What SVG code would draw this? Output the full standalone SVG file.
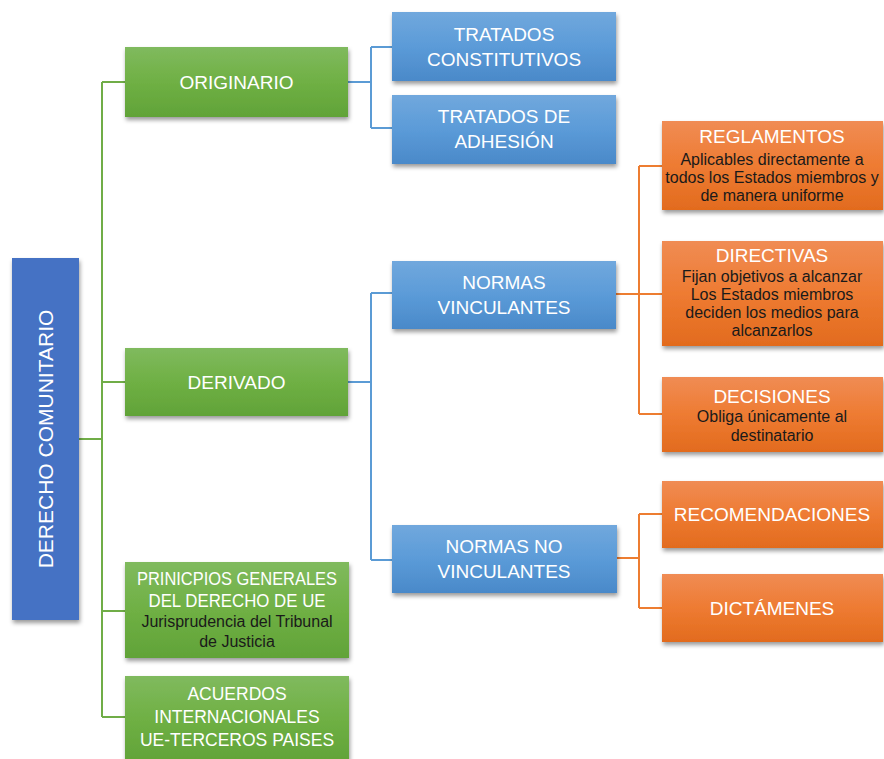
<svg xmlns="http://www.w3.org/2000/svg" width="884" height="759" viewBox="0 0 884 759">
<defs>
  <linearGradient id="gGreen" x1="0" y1="0" x2="0" y2="1">
    <stop offset="0" stop-color="#80ba5e"/>
    <stop offset="0.5" stop-color="#6fb044"/>
    <stop offset="1" stop-color="#61a338"/>
  </linearGradient>
  <linearGradient id="gBlue" x1="0" y1="0" x2="0" y2="1">
    <stop offset="0" stop-color="#71a8dd"/>
    <stop offset="0.5" stop-color="#5b9bd8"/>
    <stop offset="1" stop-color="#4a89c9"/>
  </linearGradient>
  <linearGradient id="gOrange" x1="0" y1="0" x2="0" y2="1">
    <stop offset="0" stop-color="#f08c54"/>
    <stop offset="0.5" stop-color="#ee7b32"/>
    <stop offset="1" stop-color="#e26b1e"/>
  </linearGradient>
  <filter id="sh" x="-10%" y="-20%" width="120%" height="150%">
    <feDropShadow dx="1" dy="3" stdDeviation="2" flood-color="#000" flood-opacity="0.4"/>
  </filter>
</defs>
<style>
  .t { font-family: "Liberation Sans", Arial, sans-serif; font-size: 19px; fill: #fff; text-anchor: middle; }
  .t2 { font-family: "Liberation Sans", Arial, sans-serif; font-size: 17.5px; fill: #fff; text-anchor: middle; }
  .s { font-family: "Liberation Sans", Arial, sans-serif; font-size: 16px; fill: #1a1a1a; text-anchor: middle; }
  .green { fill: url(#gGreen); filter: url(#sh); }
  .blue { fill: url(#gBlue); filter: url(#sh); }
  .orange { fill: url(#gOrange); filter: url(#sh); }
  .cg { stroke: #70ad47; stroke-width: 2; fill: none; }
  .cb { stroke: #5b9bd5; stroke-width: 2; fill: none; }
  .co { stroke: #ed7d31; stroke-width: 2; fill: none; }
</style>
<rect width="884" height="759" fill="#ffffff"/>

<g id="connectors">
  <path class="cg" d="M79 439 H102 M102 82 V717 M102 82 H125 M102 382 H125 M102 611 H125 M102 717 H125"/>
  <path class="cb" d="M348 82 H371 M371 47 V128 M371 47 H392 M371 128 H392"/>
  <path class="cb" d="M348 382 H371 M371 293 V560 M371 293 H392 M371 560 H392"/>
  <path class="co" d="M616 294 H639 M639 166 V414 M639 166 H662 M639 294 H662 M639 414 H662"/>
  <path class="co" d="M616 558 H639 M639 514 V608 M639 514 H662 M639 608 H662"/>
</g>

<g id="derecho-comunitario">
  <rect x="12" y="258" width="67" height="362" fill="#4472c4" filter="url(#sh)"/>
  <text class="t" style="font-size:21px" transform="translate(52.5,439) rotate(-90)">DERECHO COMUNITARIO</text>
</g>

<g id="originario">
  <rect class="green" x="125" y="47" width="223" height="70"/>
  <text class="t" x="236.5" y="89">ORIGINARIO</text>
</g>
<g id="derivado">
  <rect class="green" x="125" y="348" width="223" height="68"/>
  <text class="t" x="236.5" y="389">DERIVADO</text>
</g>
<g id="principios">
  <rect class="green" x="125" y="562" width="224" height="96"/>
  <text class="t2" x="237" y="585" textLength="200" lengthAdjust="spacingAndGlyphs">PRINICPIOS GENERALES</text>
  <text class="t2" x="237" y="607" textLength="177" lengthAdjust="spacingAndGlyphs">DEL DERECHO DE UE</text>
  <text class="s" x="237" y="627">Jurisprudencia del Tribunal</text>
  <text class="s" x="237" y="647">de Justicia</text>
</g>
<g id="acuerdos">
  <rect class="green" x="125" y="676" width="224" height="86"/>
  <text class="t2" x="237" y="700">ACUERDOS</text>
  <text class="t2" x="237" y="723">INTERNACIONALES</text>
  <text class="t2" x="237" y="746">UE-TERCEROS PAISES</text>
</g>

<g id="tratados-constitutivos">
  <rect class="blue" x="392" y="12" width="224" height="69"/>
  <text class="t" x="504" y="41">TRATADOS</text>
  <text class="t" x="504" y="66">CONSTITUTIVOS</text>
</g>
<g id="tratados-adhesion">
  <rect class="blue" x="392" y="95" width="224" height="69"/>
  <text class="t" x="504" y="123">TRATADOS DE</text>
  <text class="t" x="504" y="148">ADHESIÓN</text>
</g>
<g id="normas-vinculantes">
  <rect class="blue" x="392" y="261" width="224" height="68"/>
  <text class="t" x="504" y="289">NORMAS</text>
  <text class="t" x="504" y="314">VINCULANTES</text>
</g>
<g id="normas-no-vinculantes">
  <rect class="blue" x="392" y="525" width="225" height="68"/>
  <text class="t" x="504" y="553">NORMAS NO</text>
  <text class="t" x="504" y="578">VINCULANTES</text>
</g>

<g id="reglamentos">
  <rect class="orange" x="662" y="121" width="221" height="89"/>
  <text class="t" x="772" y="143">REGLAMENTOS</text>
  <text class="s" x="772" y="165">Aplicables directamente a</text>
  <text class="s" x="772" y="183">todos los Estados miembros y</text>
  <text class="s" x="772" y="201">de manera uniforme</text>
</g>
<g id="directivas">
  <rect class="orange" x="662" y="241" width="221" height="105"/>
  <text class="t" x="772" y="262">DIRECTIVAS</text>
  <text class="s" x="772" y="282">Fijan objetivos a alcanzar</text>
  <text class="s" x="772" y="300">Los Estados miembros</text>
  <text class="s" x="772" y="318">deciden los medios para</text>
  <text class="s" x="772" y="336">alcanzarlos</text>
</g>
<g id="decisiones">
  <rect class="orange" x="662" y="377" width="221" height="75"/>
  <text class="t" x="772" y="403">DECISIONES</text>
  <text class="s" x="772" y="422">Obliga únicamente al</text>
  <text class="s" x="772" y="441">destinatario</text>
</g>
<g id="recomendaciones">
  <rect class="orange" x="662" y="481" width="221" height="67"/>
  <text class="t" x="772" y="521">RECOMENDACIONES</text>
</g>
<g id="dictamenes">
  <rect class="orange" x="662" y="574" width="221" height="68"/>
  <text class="t" x="772" y="615">DICTÁMENES</text>
</g>
</svg>
